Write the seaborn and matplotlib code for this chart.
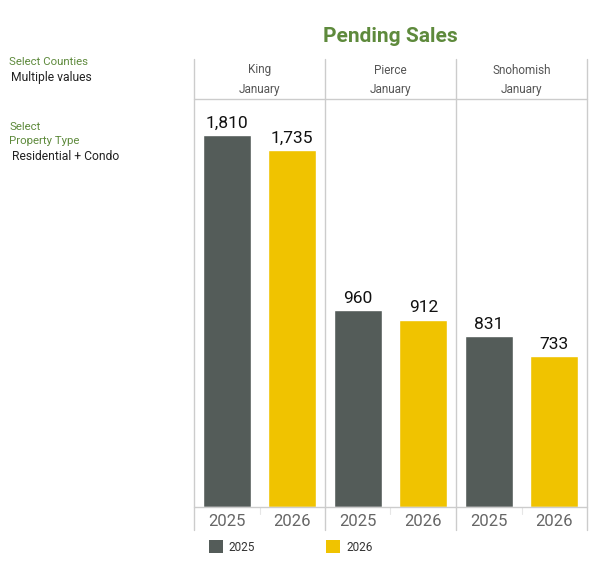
import pandas as pd
import seaborn as sns
import matplotlib.pyplot as plt
from matplotlib.lines import Line2D
from matplotlib.patches import Patch

# data
counties = ['King', 'Pierce', 'Snohomish']
month = 'January'
years = ['2025', '2026']
sales_2025 = [1810, 960, 831]
sales_2026 = [1735, 912, 733]

colors = {'2025': '#545c59', '2026': '#f0c300'}
green = '#5e8a3c'
line_col = '#cccccc'

sns.set_theme(style='white')
plt.rcParams['font.family'] = ['Roboto', 'DejaVu Sans']

W, H = 599, 572
fig = plt.figure(figsize=(W / 100, H / 100), dpi=100)


def fx(px):
    return px / W


def fy(py):
    return 1 - py / H


left_edges = [194, 325, 456]
panel_w = 131
top_px, bottom_px = 99, 507

for i, county in enumerate(counties):
    df = pd.DataFrame({'year': years, 'sales': [sales_2025[i], sales_2026[i]]})
    ax = fig.add_axes([fx(left_edges[i]), fy(bottom_px), fx(panel_w), (bottom_px - top_px) / H])
    sns.barplot(data=df, x='year', y='sales', hue='year', palette=colors,
                width=0.74, legend=False, ax=ax, saturation=1)
    ax.set_ylim(0, 1985)
    ax.set_xlim(-0.5, 1.5)
    ax.set_xlabel('')
    ax.set_ylabel('')
    ax.set_yticks([])
    ax.tick_params(axis='x', length=0, labelsize=12, labelcolor='#666666', pad=5)
    for s in ax.spines.values():
        s.set_visible(False)
    for c in ax.containers:
        ax.bar_label(c, labels=[f'{v:,.0f}' for v in c.datavalues],
                     fontsize=12.5, color='#111111', padding=3)
    # header text
    cx = fx(left_edges[i] + panel_w / 2)
    fig.text(cx, fy(70), county, ha='center', va='center', fontsize=8.5, color='#555555')
    fig.text(cx, fy(90), month, ha='center', va='center', fontsize=8.5, color='#555555')
    # faint divider between year labels
    fig.add_artist(Line2D([cx, cx], [fy(507), fy(514)], color='#e6e6e6', lw=0.8))

# grid lines of the table layout
for xp in left_edges + [587]:
    fig.add_artist(Line2D([fx(xp), fx(xp)], [fy(59), fy(530)], color=line_col, lw=1))
for yp in [99, 507]:
    fig.add_artist(Line2D([fx(194), fx(587)], [fy(yp), fy(yp)], color=line_col, lw=1))

fig.text(fx(390), fy(37), 'Pending Sales', ha='center', va='center',
         fontsize=15, fontweight='bold', color=green)

# filter panel on the left
fig.text(fx(9), fy(62), 'Select Counties', ha='left', va='center', fontsize=8.2, color=green)
fig.text(fx(11), fy(77), 'Multiple values', ha='left', va='center', fontsize=8.7, color='#222222')
fig.text(fx(9), fy(127), 'Select', ha='left', va='center', fontsize=8.2, color=green)
fig.text(fx(9), fy(141), 'Property Type', ha='left', va='center', fontsize=8.2, color=green)
fig.text(fx(12), fy(156), 'Residential + Condo', ha='left', va='center', fontsize=8.7, color='#222222')

handles = [Patch(facecolor=colors[y], edgecolor='none') for y in years]
fig.legend(handles, years, loc='center left', bbox_to_anchor=(fx(198), fy(547)),
           ncol=2, frameon=False, fontsize=8.5, handlelength=1.2, handleheight=1.2,
           handletextpad=0.5, columnspacing=6.0, labelcolor='#333333')

fig.savefig('out.png', dpi=100)
